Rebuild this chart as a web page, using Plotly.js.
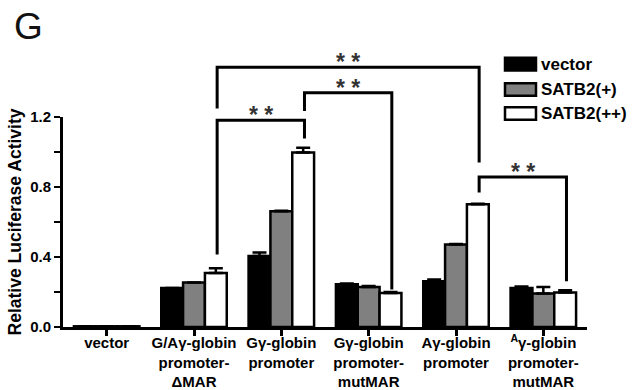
<!DOCTYPE html>
<html><head><meta charset="utf-8">
<script src="https://cdn.plot.ly/plotly-3.0.1.min.js"></script>
<style>html,body{margin:0;padding:0;background:#fff}</style>
</head><body><div id="chart" style="width:643px;height:390px"></div>
<script>
const categories = ["vector", "G/Aγ-globin<br>promoter-<br>ΔMAR", "Gγ-globin<br>promoter", "Gγ-globin<br>promoter-<br>mutMAR", "Aγ-globin<br>promoter", "<sup>A</sup>γ-globin<br>promoter-<br>mutMAR"];
const seriesNames = ["vector", "SATB2(+)", "SATB2(++)"];
const seriesColors = ["#000000", "#808080", "#ffffff"];
const vectorValues = [0.004, 0.223, 0.406, 0.244, 0.261, 0.223];
const vectorErr = [0, 0, 0.020, 0.004, 0.010, 0.008];
const satb2PlusValues = [0.004, 0.254, 0.661, 0.229, 0.471, 0.192];
const satb2PlusErr = [0, 0, 0.004, 0.006, 0.004, 0.037];
const satb2PlusPlusValues = [0.004, 0.309, 0.997, 0.194, 0.701, 0.197];
const satb2PlusPlusErr = [0, 0.027, 0.028, 0.006, 0.004, 0.013];
const yTickVals = [0, 0.4, 0.8, 1.2];
const yTickText = ["0.0", "0.4", "0.8", "1.2"];
// significance brackets: group indices compared, top height, end heights of each leg (data units)
const bracketFrom = [1, 2, 1, 4];
const bracketTo = [2, 3, 4, 5];
const bracketTop = [1.182, 1.338, 1.484, 0.857];
const bracketLeftEnd = [0.415, 1.235, 1.249, 0.768];
const bracketRightEnd = [1.077, 0.215, 0.940, 0.262];
const bracketLabel = ["* *", "* *", "* *", "* *"];

const xRange = [-0.5, 5.5];
const yRange = [0, 1.2];
const bargap = 0.25;
const xIdx = categories.map((c, i) => i);
const values = [vectorValues, satb2PlusValues, satb2PlusPlusValues];
const errs = [vectorErr, satb2PlusErr, satb2PlusPlusErr];
const FONT = "Liberation Sans, Arial, sans-serif";

const traces = seriesNames.map((name, s) => ({
  type: "bar",
  name: name,
  x: xIdx,
  y: values[s],
  marker: {color: seriesColors[s], line: {color: "#000", width: 2.5}},
  error_y: {type: "data", symmetric: false, array: errs[s], arrayminus: errs[s].map(() => 0),
            color: "#000", thickness: 2.5, width: 7},
  showlegend: false,
  hoverinfo: "skip"
}));

const xp = v => (v - xRange[0]) / (xRange[1] - xRange[0]);
const yp = v => (v - yRange[0]) / (yRange[1] - yRange[0]);
const whiteOffset = (1 - bargap) / 3 + 0.015;

const shapes = [];
const annotations = [];
const lineStyle = {color: "#000", width: 3};
bracketFrom.forEach((f, i) => {
  const xl = xp(f + whiteOffset), xr = xp(bracketTo[i] + whiteOffset);
  shapes.push({type: "path", xref: "paper", yref: "paper",
    path: `M${xl},${yp(bracketLeftEnd[i])} L${xl},${yp(bracketTop[i])} L${xr},${yp(bracketTop[i])} L${xr},${yp(bracketRightEnd[i])}`,
    line: lineStyle});
  annotations.push({xref: "paper", yref: "paper", x: (xl + xr) / 2, y: yp(bracketTop[i]),
    xanchor: "center", yanchor: "bottom", yshift: -10, showarrow: false, text: "<b>" + bracketLabel[i] + "</b>",
    font: {family: FONT, size: 23, color: "#333"}});
});

// manual legend (paper coords)
const legX0 = (505 - 63) / 524, legX1 = (536 - 63) / 524, legTextX = (539 - 63) / 524;
const legRowsPx = [64, 89.5, 113.5];
seriesNames.forEach((name, s) => {
  const yc = (327.5 - legRowsPx[s]) / 210.5;
  const h = 6.3 / 210.5;
  shapes.push({type: "rect", xref: "paper", yref: "paper", x0: legX0, x1: legX1, y0: yc - h, y1: yc + h,
    fillcolor: seriesColors[s], line: {color: "#000", width: 2.5}});
  annotations.push({xref: "paper", yref: "paper", x: legTextX, y: yc, xanchor: "left", yanchor: "middle",
    showarrow: false, text: "<b>" + name + "</b>",
    font: {family: FONT, size: 17, color: "#000"}});
});

annotations.push({xref: "paper", yref: "paper", x: (12 - 63) / 524, y: (327.5 - 4) / 210.5,
  xanchor: "left", yanchor: "top", showarrow: false, text: "G",
  font: {family: FONT, size: 37, color: "#111"}});

const layout = {
  width: 643, height: 390,
  margin: {l: 63, r: 56, t: 117, b: 63},
  paper_bgcolor: "#fff", plot_bgcolor: "#fff",
  barmode: "group", bargap: bargap, bargroupgap: 0,
  font: {family: FONT, color: "#000"},
  xaxis: {
    range: xRange, tickmode: "array", tickvals: xIdx, ticktext: categories.map(c => "<b>" + c + "</b>"),
    showline: true, linecolor: "#000", linewidth: 3, ticks: "outside", ticklen: 6, tickwidth: 3, tickcolor: "#000",
    ticklabelstandoff: -6,
    showgrid: false, zeroline: false, tickfont: {size: 15, color: "#000"}, fixedrange: true
  },
  yaxis: {
    range: yRange, tickmode: "array", tickvals: yTickVals, ticktext: yTickText.map(t => "<b>" + t + "</b>"),
    showline: true, linecolor: "#000", linewidth: 3, ticks: "outside", ticklen: 6, tickwidth: 2.5, tickcolor: "#000",
    minor: {ticks: "outside", ticklen: 6, tickwidth: 2.5, tickcolor: "#000", dtick: 0.2, tick0: 0, showgrid: false},
    showgrid: false, zeroline: false, tickfont: {size: 15, color: "#000"},
    title: {text: "<b>Relative Luciferase Activity</b>", font: {size: 17.5, color: "#000"}, standoff: 5},
    fixedrange: true
  },
  shapes: shapes,
  annotations: annotations
};

Plotly.newPlot("chart", traces, layout, {displayModeBar: false, staticPlot: true});
</script>
</body></html>
